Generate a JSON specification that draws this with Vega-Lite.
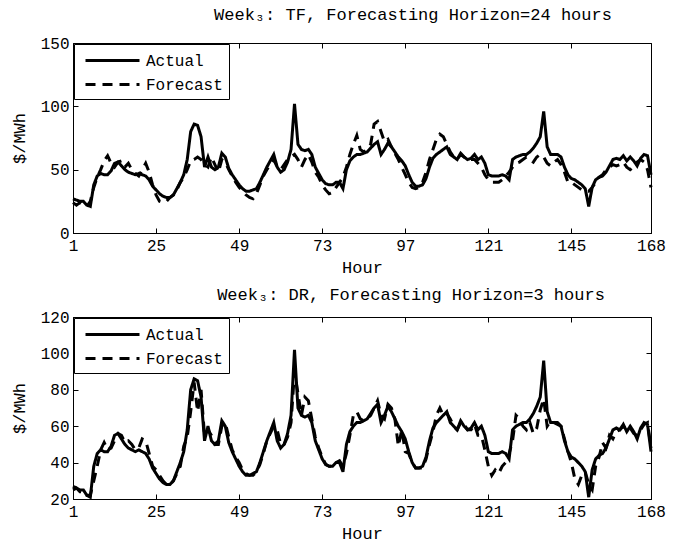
{
  "$schema": "https://vega.github.io/schema/vega-lite/v6.json",
  "padding": {"left": 9, "top": 5, "right": 5, "bottom": 0},
  "background": "white",
  "datasets": {
    "actual": [
      {"h":1,"v":27},{"h":2,"v":26},{"h":3,"v":25},{"h":4,"v":25},{"h":5,"v":22},{"h":6,"v":21},{"h":7,"v":38},{"h":8,"v":45},{"h":9,"v":47},{"h":10,"v":46},
      {"h":11,"v":46},{"h":12,"v":49},{"h":13,"v":55},{"h":14,"v":56},{"h":15,"v":53},{"h":16,"v":50},{"h":17,"v":48},{"h":18,"v":47},{"h":19,"v":46},{"h":20,"v":47},
      {"h":21,"v":46},{"h":22,"v":45},{"h":23,"v":42},{"h":24,"v":37},{"h":25,"v":34},{"h":26,"v":31},{"h":27,"v":29},{"h":28,"v":28},{"h":29,"v":28},{"h":30,"v":30},
      {"h":31,"v":35},{"h":32,"v":40},{"h":33,"v":46},{"h":34,"v":58},{"h":35,"v":80},{"h":36,"v":86},{"h":37,"v":85},{"h":38,"v":76},{"h":39,"v":52},{"h":40,"v":60},
      {"h":41,"v":52},{"h":42,"v":50},{"h":43,"v":52},{"h":44,"v":63},{"h":45,"v":60},{"h":46,"v":51},{"h":47,"v":46},{"h":48,"v":42},{"h":49,"v":38},{"h":50,"v":35},
      {"h":51,"v":33},{"h":52,"v":33},{"h":53,"v":34},{"h":54,"v":35},{"h":55,"v":40},{"h":56,"v":46},{"h":57,"v":52},{"h":58,"v":57},{"h":59,"v":62},{"h":60,"v":52},
      {"h":61,"v":48},{"h":62,"v":50},{"h":63,"v":56},{"h":64,"v":66},{"h":65,"v":102},{"h":66,"v":70},{"h":67,"v":66},{"h":68,"v":65},{"h":69,"v":66},{"h":70,"v":62},
      {"h":71,"v":52},{"h":72,"v":47},{"h":73,"v":42},{"h":74,"v":39},{"h":75,"v":38},{"h":76,"v":38},{"h":77,"v":40},{"h":78,"v":40},{"h":79,"v":35},{"h":80,"v":50},
      {"h":81,"v":57},{"h":82,"v":60},{"h":83,"v":62},{"h":84,"v":62},{"h":85,"v":63},{"h":86,"v":64},{"h":87,"v":67},{"h":88,"v":70},{"h":89,"v":72},{"h":90,"v":62},
      {"h":91,"v":66},{"h":92,"v":71},{"h":93,"v":68},{"h":94,"v":64},{"h":95,"v":60},{"h":96,"v":57},{"h":97,"v":53},{"h":98,"v":46},{"h":99,"v":40},{"h":100,"v":37},
      {"h":101,"v":37},{"h":102,"v":38},{"h":103,"v":43},{"h":104,"v":52},{"h":105,"v":59},{"h":106,"v":62},{"h":107,"v":64},{"h":108,"v":66},{"h":109,"v":68},{"h":110,"v":62},
      {"h":111,"v":60},{"h":112,"v":58},{"h":113,"v":63},{"h":114,"v":60},{"h":115,"v":58},{"h":116,"v":59},{"h":117,"v":62},{"h":118,"v":58},{"h":119,"v":60},{"h":120,"v":55},
      {"h":121,"v":46},{"h":122,"v":45},{"h":123,"v":45},{"h":124,"v":45},{"h":125,"v":46},{"h":126,"v":45},{"h":127,"v":42},{"h":128,"v":58},{"h":129,"v":60},{"h":130,"v":61},
      {"h":131,"v":62},{"h":132,"v":62},{"h":133,"v":64},{"h":134,"v":67},{"h":135,"v":71},{"h":136,"v":76},{"h":137,"v":96},{"h":138,"v":68},{"h":139,"v":62},{"h":140,"v":62},
      {"h":141,"v":62},{"h":142,"v":60},{"h":143,"v":52},{"h":144,"v":46},{"h":145,"v":43},{"h":146,"v":42},{"h":147,"v":40},{"h":148,"v":38},{"h":149,"v":35},{"h":150,"v":21},
      {"h":151,"v":36},{"h":152,"v":42},{"h":153,"v":44},{"h":154,"v":45},{"h":155,"v":48},{"h":156,"v":53},{"h":157,"v":58},{"h":158,"v":59},{"h":159,"v":58},{"h":160,"v":61},
      {"h":161,"v":57},{"h":162,"v":60},{"h":163,"v":57},{"h":164,"v":53},{"h":165,"v":59},{"h":166,"v":62},{"h":167,"v":61},{"h":168,"v":46}
    ],
    "tf": [
      {"h":1,"v":24},{"h":2,"v":22},{"h":3,"v":24},{"h":4,"v":22},{"h":5,"v":21},{"h":6,"v":25},{"h":7,"v":36},{"h":8,"v":44},{"h":9,"v":50},{"h":10,"v":57},
      {"h":11,"v":61},{"h":12,"v":55},{"h":13,"v":52},{"h":14,"v":56},{"h":15,"v":57},{"h":16,"v":52},{"h":17,"v":55},{"h":18,"v":50},{"h":19,"v":47},{"h":20,"v":45},
      {"h":21,"v":50},{"h":22,"v":55},{"h":23,"v":48},{"h":24,"v":38},{"h":25,"v":30},{"h":26,"v":25},{"h":27,"v":24},{"h":28,"v":25},{"h":29,"v":28},{"h":30,"v":30},
      {"h":31,"v":34},{"h":32,"v":40},{"h":33,"v":44},{"h":34,"v":50},{"h":35,"v":57},{"h":36,"v":58},{"h":37,"v":60},{"h":38,"v":58},{"h":39,"v":54},{"h":40,"v":52},
      {"h":41,"v":60},{"h":42,"v":54},{"h":43,"v":48},{"h":44,"v":58},{"h":45,"v":56},{"h":46,"v":50},{"h":47,"v":45},{"h":48,"v":40},{"h":49,"v":36},{"h":50,"v":33},
      {"h":51,"v":30},{"h":52,"v":28},{"h":53,"v":27},{"h":54,"v":31},{"h":55,"v":38},{"h":56,"v":45},{"h":57,"v":50},{"h":58,"v":54},{"h":59,"v":58},{"h":60,"v":52},
      {"h":61,"v":50},{"h":62,"v":54},{"h":63,"v":58},{"h":64,"v":60},{"h":65,"v":62},{"h":66,"v":58},{"h":67,"v":52},{"h":68,"v":58},{"h":69,"v":62},{"h":70,"v":56},
      {"h":71,"v":48},{"h":72,"v":44},{"h":73,"v":38},{"h":74,"v":34},{"h":75,"v":31},{"h":76,"v":32},{"h":77,"v":36},{"h":78,"v":40},{"h":79,"v":44},{"h":80,"v":52},
      {"h":81,"v":62},{"h":82,"v":70},{"h":83,"v":77},{"h":84,"v":66},{"h":85,"v":64},{"h":86,"v":66},{"h":87,"v":70},{"h":88,"v":86},{"h":89,"v":88},{"h":90,"v":80},
      {"h":91,"v":72},{"h":92,"v":74},{"h":93,"v":68},{"h":94,"v":63},{"h":95,"v":58},{"h":96,"v":52},{"h":97,"v":46},{"h":98,"v":40},{"h":99,"v":36},{"h":100,"v":35},
      {"h":101,"v":36},{"h":102,"v":40},{"h":103,"v":48},{"h":104,"v":58},{"h":105,"v":66},{"h":106,"v":74},{"h":107,"v":78},{"h":108,"v":76},{"h":109,"v":70},{"h":110,"v":64},
      {"h":111,"v":60},{"h":112,"v":58},{"h":113,"v":62},{"h":114,"v":60},{"h":115,"v":57},{"h":116,"v":58},{"h":117,"v":58},{"h":118,"v":55},{"h":119,"v":52},{"h":120,"v":46},
      {"h":121,"v":42},{"h":122,"v":40},{"h":123,"v":40},{"h":124,"v":40},{"h":125,"v":42},{"h":126,"v":45},{"h":127,"v":48},{"h":128,"v":52},{"h":129,"v":55},{"h":130,"v":56},
      {"h":131,"v":58},{"h":132,"v":60},{"h":133,"v":58},{"h":134,"v":56},{"h":135,"v":60},{"h":136,"v":62},{"h":137,"v":60},{"h":138,"v":55},{"h":139,"v":53},{"h":140,"v":56},
      {"h":141,"v":58},{"h":142,"v":54},{"h":143,"v":48},{"h":144,"v":40},{"h":145,"v":40},{"h":146,"v":38},{"h":147,"v":36},{"h":148,"v":34},{"h":149,"v":33},{"h":150,"v":33},
      {"h":151,"v":36},{"h":152,"v":40},{"h":153,"v":44},{"h":154,"v":46},{"h":155,"v":50},{"h":156,"v":52},{"h":157,"v":54},{"h":158,"v":53},{"h":159,"v":54},{"h":160,"v":56},
      {"h":161,"v":52},{"h":162,"v":50},{"h":163,"v":52},{"h":164,"v":56},{"h":165,"v":58},{"h":166,"v":56},{"h":167,"v":50},{"h":168,"v":36}
    ],
    "dr": [
      {"h":1,"v":25},{"h":2,"v":26},{"h":3,"v":24},{"h":4,"v":24},{"h":5,"v":22},{"h":6,"v":22},{"h":7,"v":30},{"h":8,"v":38},{"h":9,"v":47},{"h":10,"v":51},
      {"h":11,"v":47},{"h":12,"v":48},{"h":13,"v":52},{"h":14,"v":56},{"h":15,"v":55},{"h":16,"v":51},{"h":17,"v":52},{"h":18,"v":50},{"h":19,"v":47},{"h":20,"v":48},
      {"h":21,"v":53},{"h":22,"v":52},{"h":23,"v":45},{"h":24,"v":38},{"h":25,"v":36},{"h":26,"v":33},{"h":27,"v":30},{"h":28,"v":28},{"h":29,"v":28},{"h":30,"v":30},
      {"h":31,"v":34},{"h":32,"v":38},{"h":33,"v":49},{"h":34,"v":54},{"h":35,"v":68},{"h":36,"v":84},{"h":37,"v":68},{"h":38,"v":80},{"h":39,"v":55},{"h":40,"v":58},
      {"h":41,"v":55},{"h":42,"v":50},{"h":43,"v":50},{"h":44,"v":60},{"h":45,"v":62},{"h":46,"v":54},{"h":47,"v":47},{"h":48,"v":43},{"h":49,"v":40},{"h":50,"v":36},
      {"h":51,"v":34},{"h":52,"v":33},{"h":53,"v":33},{"h":54,"v":35},{"h":55,"v":39},{"h":56,"v":45},{"h":57,"v":52},{"h":58,"v":56},{"h":59,"v":60},{"h":60,"v":58},
      {"h":61,"v":50},{"h":62,"v":50},{"h":63,"v":54},{"h":64,"v":62},{"h":65,"v":90},{"h":66,"v":78},{"h":67,"v":66},{"h":68,"v":76},{"h":69,"v":74},{"h":70,"v":64},
      {"h":71,"v":54},{"h":72,"v":48},{"h":73,"v":43},{"h":74,"v":39},{"h":75,"v":38},{"h":76,"v":38},{"h":77,"v":40},{"h":78,"v":41},{"h":79,"v":38},{"h":80,"v":45},
      {"h":81,"v":55},{"h":82,"v":66},{"h":83,"v":68},{"h":84,"v":64},{"h":85,"v":63},{"h":86,"v":64},{"h":87,"v":66},{"h":88,"v":70},{"h":89,"v":74},{"h":90,"v":66},
      {"h":91,"v":64},{"h":92,"v":72},{"h":93,"v":70},{"h":94,"v":64},{"h":95,"v":49},{"h":96,"v":58},{"h":97,"v":46},{"h":98,"v":45},{"h":99,"v":40},{"h":100,"v":37},
      {"h":101,"v":37},{"h":102,"v":37},{"h":103,"v":42},{"h":104,"v":50},{"h":105,"v":57},{"h":106,"v":66},{"h":107,"v":70},{"h":108,"v":66},{"h":109,"v":67},{"h":110,"v":64},
      {"h":111,"v":60},{"h":112,"v":58},{"h":113,"v":62},{"h":114,"v":61},{"h":115,"v":58},{"h":116,"v":58},{"h":117,"v":61},{"h":118,"v":55},{"h":119,"v":55},{"h":120,"v":47},
      {"h":121,"v":38},{"h":122,"v":33},{"h":123,"v":36},{"h":124,"v":34},{"h":125,"v":38},{"h":126,"v":40},{"h":127,"v":45},{"h":128,"v":52},{"h":129,"v":66},{"h":130,"v":64},
      {"h":131,"v":60},{"h":132,"v":58},{"h":133,"v":62},{"h":134,"v":56},{"h":135,"v":59},{"h":136,"v":69},{"h":137,"v":75},{"h":138,"v":60},{"h":139,"v":63},{"h":140,"v":62},
      {"h":141,"v":61},{"h":142,"v":60},{"h":143,"v":53},{"h":144,"v":46},{"h":145,"v":40},{"h":146,"v":31},{"h":147,"v":28},{"h":148,"v":33},{"h":149,"v":35},{"h":150,"v":28},
      {"h":151,"v":25},{"h":152,"v":38},{"h":153,"v":43},{"h":154,"v":51},{"h":155,"v":48},{"h":156,"v":55},{"h":157,"v":53},{"h":158,"v":57},{"h":159,"v":58},{"h":160,"v":60},
      {"h":161,"v":58},{"h":162,"v":59},{"h":163,"v":56},{"h":164,"v":55},{"h":165,"v":58},{"h":166,"v":61},{"h":167,"v":62},{"h":168,"v":48}
    ]
  },
  "config": {
    "font": "Liberation Mono",
    "view": {"stroke": "black", "strokeWidth": 1},
    "axis": {
      "grid": false, "domainColor": "black", "tickColor": "black", "labelColor": "black", "titleColor": "black",
      "labelFont": "Liberation Mono", "labelFontSize": 16, "titleFont": "Liberation Mono", "titleFontSize": 17,
      "titleFontWeight": "normal", "tickSize": -5, "labelPadding": 9, "labelOverlap": false, "labelFlush": false
    },
    "legend": {
      "orient": "top-left", "offset": 1, "strokeColor": "black", "fillColor": "white", "padding": 6,
      "symbolType": "M-3,0H3", "symbolSize": 324, "symbolStrokeWidth": 3, "symbolStrokeColor": "black",
      "symbolOffset": 22, "labelOffset": 23,
      "labelFont": "Liberation Mono", "labelFontSize": 16, "labelColor": "black", "rowPadding": 5
    },
    "title": {"font": "Liberation Mono", "fontSize": 17, "fontWeight": "normal", "color": "black", "offset": 11}
  },
  "resolve": {"legend": {"strokeDash": "independent"}},
  "spacing": 9,
  "vconcat": [
    {
      "width": 578, "height": 190,
      "title": {"text": "Week₃: TF, Forecasting Horizon=24 hours", "dx": 51},
      "resolve": {"axis": {"x": "independent", "y": "independent"}},
      "layer": [
        {
          "data": {"name": "actual"},
          "mark": {"type": "line", "color": "black", "strokeWidth": 3},
          "encoding": {
            "x": {"field": "h", "type": "quantitative", "scale": {"domain": [1, 168], "nice": false}, "axis": {"orient": "bottom", "values": [1, 25, 49, 73, 97, 121, 145, 168], "title": "Hour", "titlePadding": 6, "labelOverlap": false}},
            "y": {"field": "v", "type": "quantitative", "scale": {"domain": [0, 150], "nice": false}, "axis": {"orient": "left", "values": [0, 50, 100, 150], "title": "$/MWh", "titlePadding": 12, "labelOverlap": false}},
            "strokeDash": {"datum": "Actual", "type": "nominal", "scale": {"domain": ["Actual", "Forecast"], "range": [[1, 0], [10, 7]]}, "legend": {"title": null}}
          }
        },
        {
          "data": {"name": "tf"},
          "mark": {"type": "line", "color": "black", "strokeWidth": 3},
          "encoding": {
            "x": {"field": "h", "type": "quantitative", "axis": {"orient": "top", "values": [1, 25, 49, 73, 97, 121, 145, 168], "labels": false, "title": null, "domain": false}},
            "y": {"field": "v", "type": "quantitative", "axis": {"orient": "right", "values": [0, 50, 100, 150], "labels": false, "title": null, "domain": false}},
            "strokeDash": {"datum": "Forecast", "type": "nominal"}
          }
        }
      ]
    },
    {
      "width": 578, "height": 182,
      "title": {"text": "Week₃: DR, Forecasting Horizon=3 hours", "dx": 49, "offset": 5},
      "resolve": {"axis": {"x": "independent", "y": "independent"}},
      "layer": [
        {
          "data": {"name": "actual"},
          "mark": {"type": "line", "color": "black", "strokeWidth": 3},
          "encoding": {
            "x": {"field": "h", "type": "quantitative", "scale": {"domain": [1, 168], "nice": false}, "axis": {"orient": "bottom", "values": [1, 25, 49, 73, 97, 121, 145, 168], "title": "Hour", "titlePadding": 6, "labelOverlap": false}},
            "y": {"field": "v", "type": "quantitative", "scale": {"domain": [20, 120], "nice": false}, "axis": {"orient": "left", "values": [20, 40, 60, 80, 100, 120], "title": "$/MWh", "titlePadding": 12, "labelOverlap": false}},
            "strokeDash": {"datum": "Actual", "type": "nominal", "scale": {"domain": ["Actual", "Forecast"], "range": [[1, 0], [10, 7]]}, "legend": {"title": null}}
          }
        },
        {
          "data": {"name": "dr"},
          "mark": {"type": "line", "color": "black", "strokeWidth": 3},
          "encoding": {
            "x": {"field": "h", "type": "quantitative", "axis": {"orient": "top", "values": [1, 25, 49, 73, 97, 121, 145, 168], "labels": false, "title": null, "domain": false}},
            "y": {"field": "v", "type": "quantitative", "axis": {"orient": "right", "values": [20, 40, 60, 80, 100, 120], "labels": false, "title": null, "domain": false}},
            "strokeDash": {"datum": "Forecast", "type": "nominal"}
          }
        }
      ]
    }
  ]
}
